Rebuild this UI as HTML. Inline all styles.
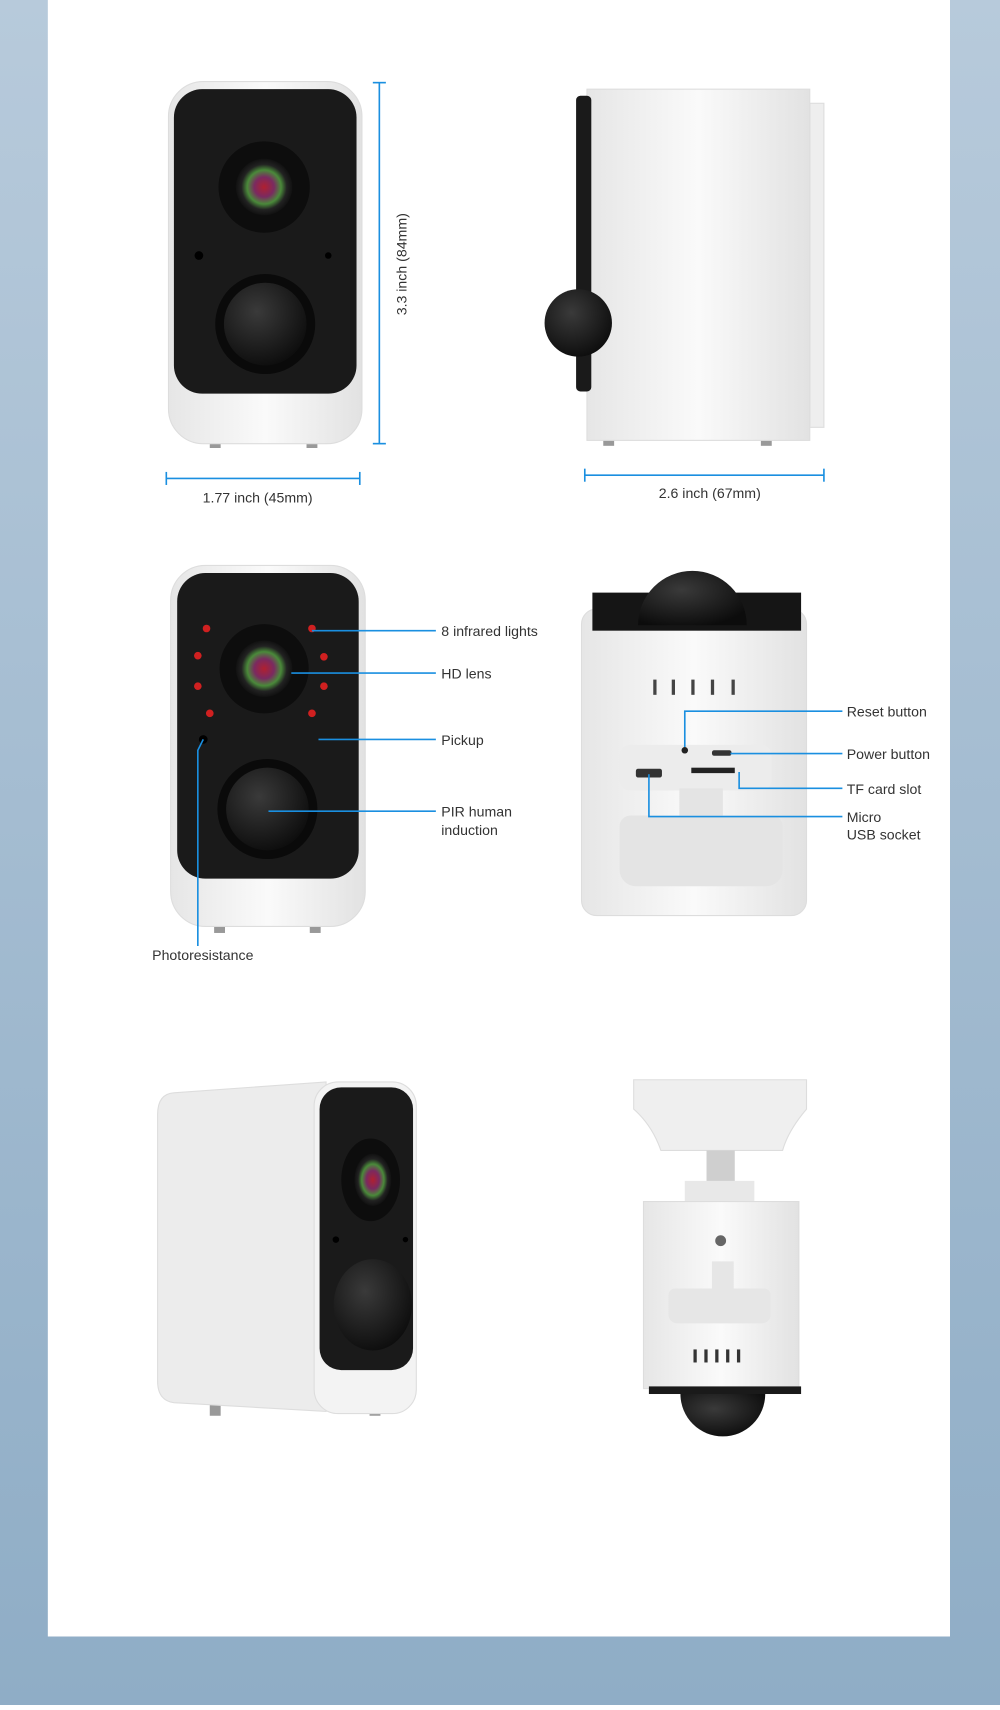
<!DOCTYPE html>
<html><head><meta charset="utf-8"><style>
html,body{margin:0;padding:0;}
body{width:1000px;height:1705px;overflow:hidden;}
svg text{font-family:"Liberation Sans",sans-serif;fill:#333;}
</style></head><body>
<svg width="1000" height="1705" viewBox="0 0 920 1568" preserveAspectRatio="none" xmlns="http://www.w3.org/2000/svg">
<defs>
<linearGradient id="bg" x1="0" y1="0" x2="0" y2="1"><stop offset="0" stop-color="#b7cadb"/><stop offset="1" stop-color="#8fadc6"/></linearGradient>
<radialGradient id="blk" cx="0.4" cy="0.35" r="0.7"><stop offset="0" stop-color="#3a3a3a"/><stop offset="1" stop-color="#0c0c0c"/></radialGradient>
<radialGradient id="lens" cx="0.5" cy="0.5" r="0.5"><stop offset="0" stop-color="#b02030"/><stop offset="0.35" stop-color="#7a2a60"/><stop offset="0.6" stop-color="#4a8a3a"/><stop offset="0.8" stop-color="#222"/><stop offset="1" stop-color="#111"/></radialGradient>
<linearGradient id="wb" x1="0" y1="0" x2="1" y2="0"><stop offset="0" stop-color="#e6e6e6"/><stop offset="0.5" stop-color="#fafafa"/><stop offset="1" stop-color="#e2e2e2"/></linearGradient>
</defs>
<rect width="920" height="1568" fill="url(#bg)"/>
<rect x="44" y="0" width="830" height="1505" fill="#fff"/>
<g fill="none" stroke="#1a8fe0" stroke-width="1.5">
<!-- dims -->
<line x1="349" y1="76" x2="349" y2="408"/><line x1="343" y1="76" x2="355" y2="76"/><line x1="343" y1="408" x2="355" y2="408"/>
<line x1="153" y1="440" x2="331" y2="440"/><line x1="153" y1="434" x2="153" y2="446"/><line x1="331" y1="434" x2="331" y2="446"/>
<line x1="538" y1="437" x2="758" y2="437"/><line x1="538" y1="431" x2="538" y2="443"/><line x1="758" y1="431" x2="758" y2="443"/>
</g>
<text x="0" y="0" font-size="13" transform="translate(374,243) rotate(-90)" text-anchor="middle">3.3 inch (84mm)</text>
<text x="237" y="462" font-size="13" text-anchor="middle">1.77 inch (45mm)</text>
<text x="653" y="458" font-size="13" text-anchor="middle">2.6 inch (67mm)</text>

<!-- camera 1 -->
<rect x="193" y="400" width="10" height="12" fill="#999"/><rect x="282" y="400" width="10" height="12" fill="#999"/>
<rect x="155" y="75" width="178" height="333" rx="32" fill="url(#wb)" stroke="#ddd"/>
<rect x="160" y="82" width="168" height="280" rx="26" fill="#1a1a1a"/>
<circle cx="243" cy="172" r="42" fill="#0d0d0d"/><circle cx="243" cy="172" r="26" fill="url(#lens)"/>
<circle cx="244" cy="298" r="46" fill="#0a0a0a"/><circle cx="244" cy="298" r="38" fill="url(#blk)"/>
<circle cx="183" cy="235" r="4" fill="#000"/><circle cx="302" cy="235" r="3" fill="#000"/>

<!-- camera 2 -->
<rect x="555" y="398" width="10" height="12" fill="#999"/><rect x="700" y="398" width="10" height="12" fill="#999"/>
<rect x="745" y="95" width="13" height="298" fill="#eee" stroke="#ddd"/>
<rect x="540" y="82" width="205" height="323" fill="url(#wb)" stroke="#ddd"/>
<rect x="530" y="88" width="14" height="272" rx="4" fill="#1a1a1a"/>
<circle cx="532" cy="297" r="31" fill="url(#blk)"/>

<!-- camera 3 -->
<rect x="197" y="846" width="10" height="12" fill="#999"/><rect x="285" y="846" width="10" height="12" fill="#999"/>
<rect x="157" y="520" width="179" height="332" rx="32" fill="url(#wb)" stroke="#ddd"/>
<rect x="163" y="527" width="167" height="281" rx="26" fill="#1a1a1a"/>
<circle cx="243" cy="615" r="41" fill="#0d0d0d"/><circle cx="243" cy="615" r="26" fill="url(#lens)"/>
<circle cx="246" cy="744" r="46" fill="#0a0a0a"/><circle cx="246" cy="744" r="38" fill="url(#blk)"/>
<g fill="#d02020"><circle cx="190" cy="578" r="3.5"/><circle cx="287" cy="578" r="3.5"/><circle cx="182" cy="603" r="3.5"/><circle cx="298" cy="604" r="3.5"/><circle cx="182" cy="631" r="3.5"/><circle cx="298" cy="631" r="3.5"/><circle cx="193" cy="656" r="3.5"/><circle cx="287" cy="656" r="3.5"/></g>
<circle cx="187" cy="680" r="4" fill="#000"/>
<g fill="none" stroke="#1a8fe0" stroke-width="1.5">
<line x1="287" y1="580" x2="401" y2="580"/><line x1="268" y1="619" x2="401" y2="619"/><line x1="293" y1="680" x2="401" y2="680"/><line x1="247" y1="746" x2="401" y2="746"/><polyline points="187,680 182,690 182,870"/>
</g>
<g font-size="13"><text x="406" y="585">8 infrared lights</text><text x="406" y="624">HD lens</text><text x="406" y="685">Pickup</text><text x="406" y="751">PIR human</text><text x="406" y="768">induction</text><text x="140" y="883">Photoresistance</text></g>

<!-- camera 4 -->
<rect x="535" y="560" width="207" height="282" rx="14" fill="url(#wb)" stroke="#ddd"/>
<rect x="545" y="545" width="192" height="35" fill="#151515"/>
<path d="M587,575 A50,50 0 0 1 687,575 Z" fill="url(#blk)"/>
<g fill="#444"><rect x="601" y="625" width="3" height="14"/><rect x="618" y="625" width="3" height="14"/><rect x="636" y="625" width="3" height="14"/><rect x="654" y="625" width="3" height="14"/><rect x="673" y="625" width="3" height="14"/></g>
<rect x="570" y="685" width="140" height="42" rx="10" fill="#ececec"/>
<rect x="585" y="707" width="24" height="8" rx="2" fill="#333"/>
<rect x="636" y="706" width="40" height="5" fill="#222"/><rect x="655" y="690" width="18" height="5" rx="2" fill="#333"/>
<circle cx="630" cy="690" r="3" fill="#222"/>
<path d="M625,725 h40 v25 h45 a10,10 0 0 1 10,10 v40 a15,15 0 0 1 -15,15 h-120 a15,15 0 0 1 -15,-15 v-40 a10,10 0 0 1 10,-10 h45 z" fill="#e4e4e4"/>
<g fill="none" stroke="#1a8fe0" stroke-width="1.5">
<polyline points="630,687 630,654 775,654"/><line x1="672" y1="693" x2="775" y2="693"/><polyline points="680,710 680,725 775,725"/><polyline points="597,712 597,751 775,751"/>
</g>
<g font-size="13"><text x="779" y="659">Reset button</text><text x="779" y="698">Power button</text><text x="779" y="730">TF card slot</text><text x="779" y="756">Micro</text><text x="779" y="772">USB socket</text></g>

<!-- camera 5 -->
<rect x="193" y="1292" width="10" height="10" fill="#999"/><rect x="340" y="1292" width="10" height="10" fill="#999"/>
<path d="M160,1005 L300,995 L300,1298 L160,1290 Q145,1288 145,1270 L145,1025 Q145,1006 160,1005 Z" fill="#ececec" stroke="#ddd"/>
<rect x="289" y="995" width="94" height="305" rx="22" fill="#f3f3f3" stroke="#ddd"/>
<rect x="294" y="1000" width="86" height="260" rx="20" fill="#1a1a1a"/>
<ellipse cx="341" cy="1085" rx="27" ry="38" fill="#0d0d0d"/><ellipse cx="343" cy="1085" rx="17" ry="24" fill="url(#lens)"/>
<ellipse cx="343" cy="1200" rx="36" ry="42" fill="url(#blk)"/>
<circle cx="309" cy="1140" r="3" fill="#000"/><circle cx="373" cy="1140" r="2.5" fill="#000"/>

<!-- camera 6 -->
<path d="M583,993 L742,993 L742,1020 Q725,1040 720,1058 L608,1058 Q600,1035 583,1020 Z" fill="#efefef" stroke="#ddd"/>
<rect x="650" y="1058" width="26" height="30" fill="#cfcfcf"/>
<rect x="630" y="1086" width="64" height="20" fill="#e8e8e8"/>
<rect x="592" y="1105" width="143" height="172" fill="url(#wb)" stroke="#ddd"/>
<circle cx="663" cy="1141" r="5" fill="#666"/>
<path d="M655,1160 h20 v25 h28 a6,6 0 0 1 6,6 v18 a8,8 0 0 1 -8,8 h-78 a8,8 0 0 1 -8,-8 v-18 a6,6 0 0 1 6,-6 h34 z" fill="#e6e6e6"/>
<g fill="#333"><rect x="638" y="1241" width="3" height="12"/><rect x="648" y="1241" width="3" height="12"/><rect x="658" y="1241" width="3" height="12"/><rect x="668" y="1241" width="3" height="12"/><rect x="678" y="1241" width="3" height="12"/></g>
<rect x="597" y="1275" width="140" height="7" fill="#1a1a1a"/>
<path d="M626,1282 A39,39 0 0 0 704,1282 Z" fill="url(#blk)"/>
</svg>
</body></html>
